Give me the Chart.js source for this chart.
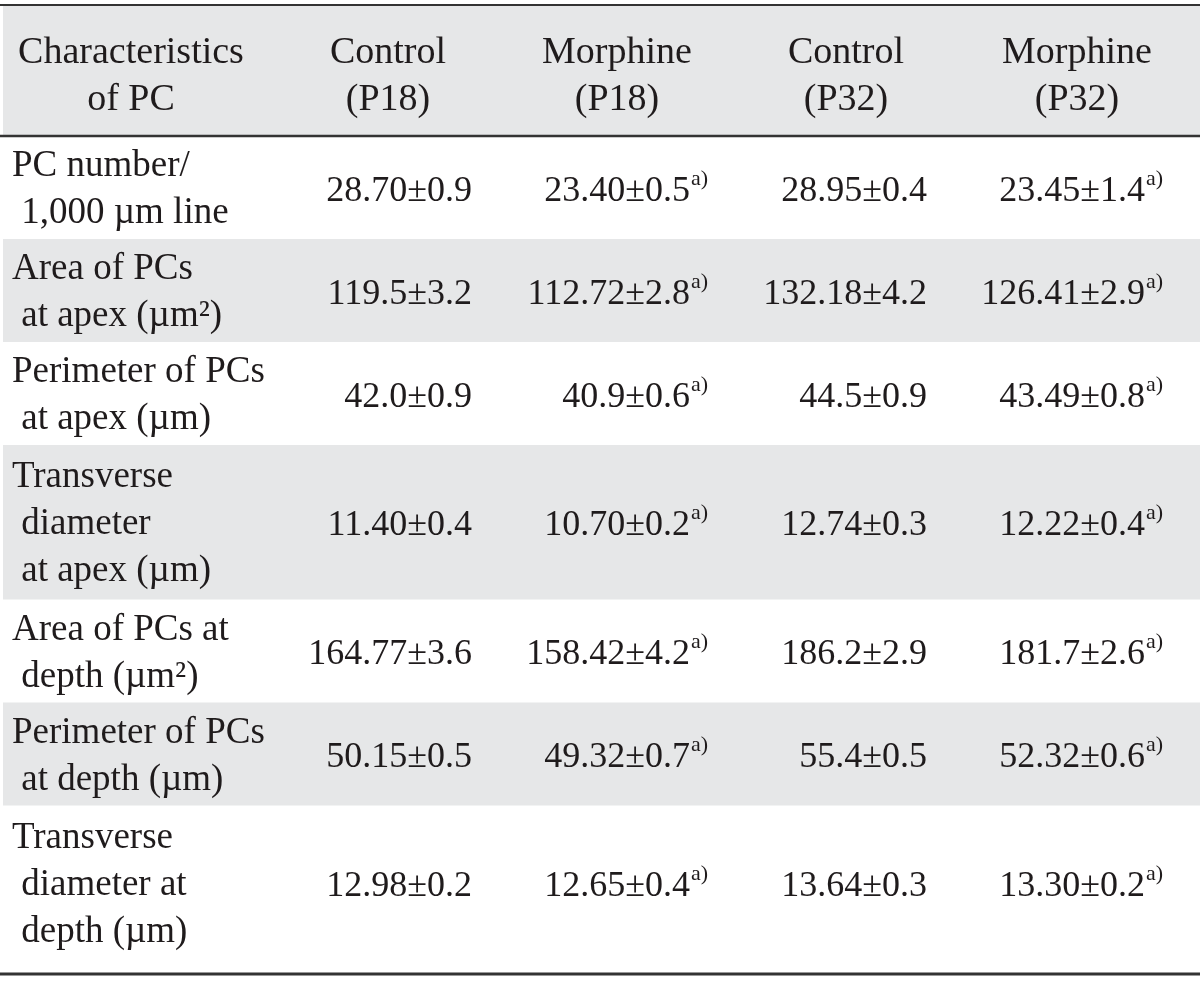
<!DOCTYPE html>
<html>
<head>
<meta charset="utf-8">
<title>Characteristics of PC</title>
<script src="https://cdn.jsdelivr.net/npm/chart.js@4.4.1/dist/chart.umd.min.js"></script>
<style>
  html, body { margin: 0; padding: 0; background: #fff; }
  #pcTable { display: block; }
</style>
</head>
<body>
<canvas id="pcTable" width="1200" height="982"></canvas>
<script>
// Column headers (one entry per printed line)
const columns = [
  ['Characteristics', 'of PC'],
  ['Control', '(P18)'],
  ['Morphine', '(P18)'],
  ['Control', '(P32)'],
  ['Morphine', '(P32)']
];

// Row labels (one entry per printed line)
const rowLabels = [
  ['PC number/', ' 1,000 µm line'],
  ['Area of PCs', ' at apex (µm²)'],
  ['Perimeter of PCs', ' at apex (µm)'],
  ['Transverse', ' diameter', ' at apex (µm)'],
  ['Area of PCs at', ' depth (µm²)'],
  ['Perimeter of PCs', ' at depth (µm)'],
  ['Transverse', ' diameter at', ' depth (µm)']
];

// Mean ± SD for each group
const controlP18 = ['28.70±0.9', '119.5±3.2', '42.0±0.9', '11.40±0.4', '164.77±3.6', '50.15±0.5', '12.98±0.2'];
const morphineP18 = ['23.40±0.5', '112.72±2.8', '40.9±0.6', '10.70±0.2', '158.42±4.2', '49.32±0.7', '12.65±0.4'];
const controlP32 = ['28.95±0.4', '132.18±4.2', '44.5±0.9', '12.74±0.3', '186.2±2.9', '55.4±0.5', '13.64±0.3'];
const morphineP32 = ['23.45±1.4', '126.41±2.9', '43.49±0.8', '12.22±0.4', '181.7±2.6', '52.32±0.6', '13.30±0.2'];
const morphineNote = 'a)';

// Layout (x in px units, y in text-line units)
const LINE = 51.5;
const W = 1200, H = 982;
const layout = {
  top: 5 / LINE,
  headerPadTop: 18 / LINE,
  headerPadBottom: 10 / LINE,
  bottomPad: 14 / LINE,
  lineGap: 47 / LINE,
  baseShift: 12 / LINE,
  dataShift: 13 / LINE,
  labelX: 12,
  headerCenters: [131, 388, 617, 846, 1077],
  dataRight: [472, 708, 927, 1163],
  bandLeft: 3
};
const groups = [controlP18, morphineP18, controlP32, morphineP32];
const withNote = [false, true, false, true];

const FONT = '"Liberation Serif", "DejaVu Serif", serif';
const TEXT = '#1f1b1c';
const BAND = '#e6e7e8';
const RULE = '#333333';

// Row extents in line units
const headerTop = layout.top;
const headerBottom = headerTop + layout.headerPadTop + 2 + layout.headerPadBottom;
const rowSpans = [];
let cursor = headerBottom;
rowLabels.forEach(lines => {
  rowSpans.push([cursor, cursor + lines.length]);
  cursor += lines.length;
});
const tableBottom = cursor + layout.bottomPad;

const drawBlock = (ctx, x, y, lines, center, align, px) => {
  ctx.textAlign = align;
  lines.forEach((t, i) => {
    const v = center + layout.baseShift + (i - (lines.length - 1) / 2) * layout.lineGap;
    ctx.fillText(t, px(x), y.getPixelForValue(v));
  });
};

const tablePlugin = {
  id: 'tableCells',
  beforeDatasetsDraw(chart) {
    const { ctx, scales: { x, y } } = chart;
    ctx.save();
    ctx.fillStyle = BAND;
    // header band + every other body row
    const bands = [[headerTop, headerBottom]].concat(rowSpans.filter((_, i) => i % 2 === 1));
    bands.forEach(([a, b]) => {
      const y0 = y.getPixelForValue(a), y1 = y.getPixelForValue(b);
      ctx.fillRect(x.getPixelForValue(layout.bandLeft), y0, x.getPixelForValue(W) - x.getPixelForValue(layout.bandLeft), y1 - y0);
    });
    ctx.restore();
  },
  afterDatasetsDraw(chart) {
    const { ctx, scales: { x, y } } = chart;
    const px = v => x.getPixelForValue(v);
    ctx.save();
    ctx.fillStyle = TEXT;
    ctx.textBaseline = 'alphabetic';

    // header
    ctx.font = '38px ' + FONT;
    const hCenter = headerTop + layout.headerPadTop + 1;
    columns.forEach((lines, c) => drawBlock(ctx, layout.headerCenters[c], y, lines, hCenter, 'center', px));

    // body
    rowSpans.forEach(([a, b], r) => {
      const mid = (a + b) / 2;
      ctx.font = '37px ' + FONT;
      drawBlock(ctx, layout.labelX, y, rowLabels[r], mid, 'left', px);
      const base = y.getPixelForValue(mid + layout.dataShift);
      groups.forEach((vals, c) => {
        let right = px(layout.dataRight[c]);
        if (withNote[c]) {
          ctx.font = '22px ' + FONT;
          const w = ctx.measureText(morphineNote).width;
          ctx.textAlign = 'left';
          ctx.fillText(morphineNote, right - w, base - 16);
          right -= w + 1;
        }
        ctx.font = '36px ' + FONT;
        ctx.textAlign = 'right';
        ctx.fillText(vals[r], right, base);
      });
    });

    // rules
    ctx.strokeStyle = RULE;
    [[headerTop, 2], [headerBottom, 2.5], [tableBottom, 3]].forEach(([v, lw]) => {
      const yy = y.getPixelForValue(v);
      ctx.lineWidth = lw;
      ctx.beginPath();
      ctx.moveTo(px(0), yy);
      ctx.lineTo(px(W), yy);
      ctx.stroke();
    });
    ctx.restore();
  }
};

new Chart(document.getElementById('pcTable'), {
  type: 'scatter',
  data: { datasets: [] },
  options: {
    responsive: false,
    animation: false,
    devicePixelRatio: 1,
    layout: { padding: 0 },
    plugins: { legend: { display: false }, tooltip: { enabled: false } },
    scales: {
      x: { type: 'linear', min: 0, max: W, display: false },
      y: { type: 'linear', min: 0, max: H / LINE, reverse: true, display: false }
    }
  },
  plugins: [tablePlugin]
});
</script>
</body>
</html>
